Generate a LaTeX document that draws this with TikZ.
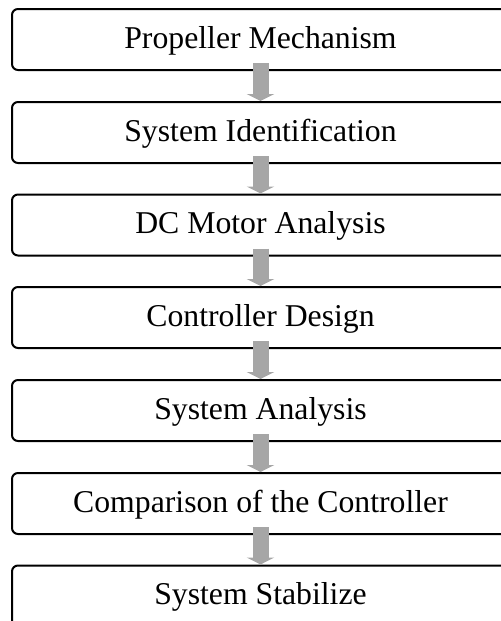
\documentclass[tikz,border=0pt]{standalone}
\usepackage{fontspec}
\setmainfont{Liberation Serif}
\usetikzlibrary{arrows.meta,calc}
\definecolor{arrgray}{HTML}{A6A6A6}
\tikzset{
  stepbox/.style={draw=black, line width=1.5pt, rounded corners=4.5pt, fill=white,
    minimum width=372.75pt, minimum height=45.75pt, inner sep=0pt,
    font=\fontsize{23.8pt}{28pt}\selectfont, text height=17pt, text depth=4.25pt},
  flowarrow/.style={draw=arrgray, line width=12pt,
    -{Triangle[width=20.5pt,length=5.2pt]}}
}
\begin{document}
\begin{tikzpicture}[x=0.75pt,y=-0.75pt]
\useasboundingbox (0,0) rectangle (500,621);
\node[stepbox] (n1) at (260.5,39.5) {Propeller Mechanism};
\node[stepbox] (n2) at (260.5,132.5) {System Identification};
\node[stepbox] (n3) at (260.5,225) {DC Motor Analysis};
\node[stepbox] (n4) at (260.5,317.5) {Controller Design};
\node[stepbox] (n5) at (260.5,410.5) {System Analysis};
\node[stepbox] (n6) at (260.5,503.5) {Comparison of the Controller};
\node[stepbox] (n7) at (260.5,596) {System Stabilize};
\foreach \a/\b in {n1/n2,n2/n3,n3/n4,n4/n5,n5/n6,n6/n7}{
  \draw[flowarrow] ($(\a.south)+(0,-8)$) -- (\b.north);
}
\end{tikzpicture}
\end{document}
